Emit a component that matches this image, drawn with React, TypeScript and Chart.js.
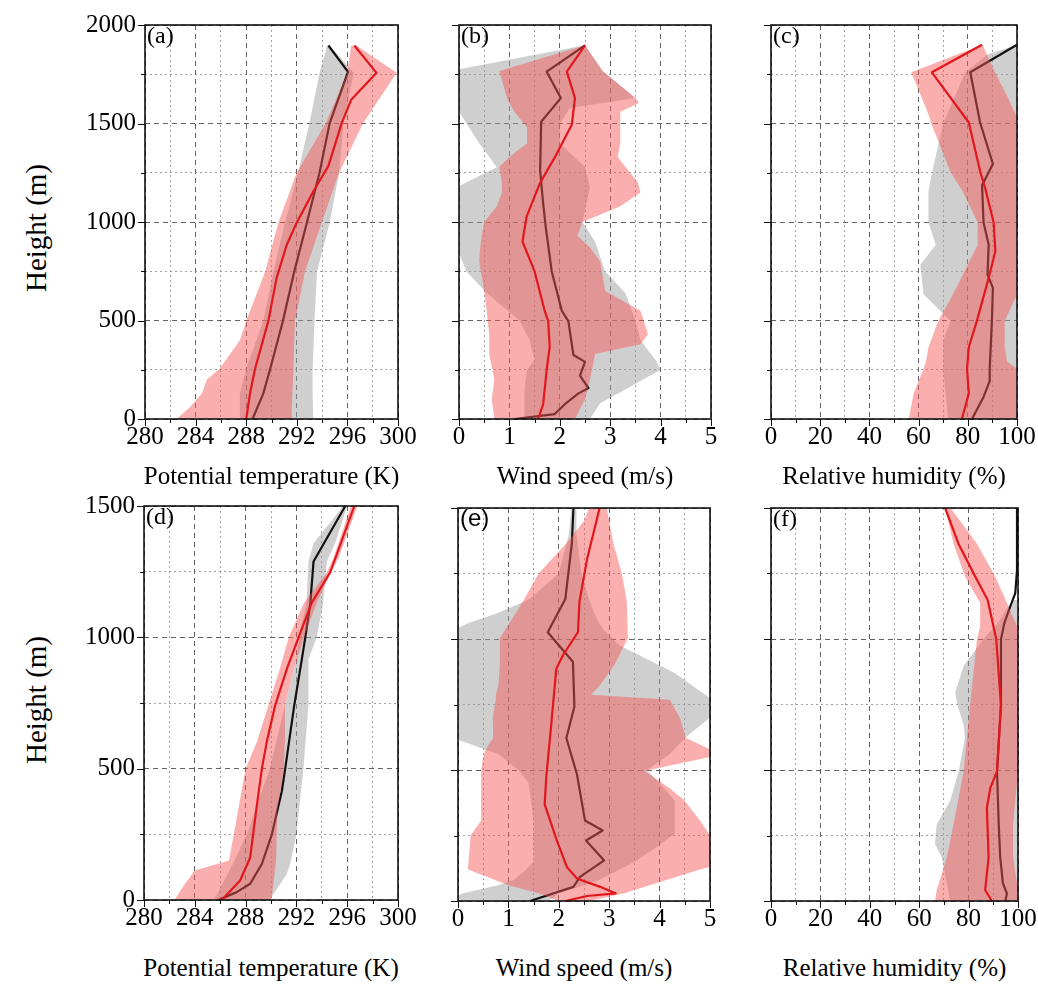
import React, { useEffect, useRef } from "react";
import { Chart, registerables } from "chart.js";
Chart.register(...registerables);

// ---------------- tick lists ----------------
const tempTicks = [280, 282, 284, 286, 288, 290, 292, 294, 296, 298, 300];
const tempLabels = [280, 284, 288, 292, 296, 300];
const windTicks = [0, 0.5, 1, 1.5, 2, 2.5, 3, 3.5, 4, 4.5, 5];
const windLabels = [0, 1, 2, 3, 4, 5];
const rhTicks = [0, 10, 20, 30, 40, 50, 60, 70, 80, 90, 100];
const rhLabels = [0, 20, 40, 60, 80, 100];
const hTicksTop = [0, 250, 500, 750, 1000, 1250, 1500, 1750, 2000];
const hLabelsTop = [0, 500, 1000, 1500, 2000];
const hTicksBot = [0, 250, 500, 750, 1000, 1250, 1500];
const hLabelsBot = [0, 500, 1000, 1500];

// ---------------- panel (a) ----------------
const aBlackH = [0, 129, 255, 497, 749, 997, 1251, 1502, 1762, 1896];
const aBlackT = [288.5, 289.35, 289.9, 290.9, 291.8, 292.8, 293.8, 294.6, 296.05, 294.5];
const aRedH = [0, 129, 255, 497, 715, 883, 998, 1155, 1285, 1502, 1620, 1757, 1896];
const aRedT = [288.0, 288.3, 288.7, 289.75, 290.4, 291.2, 292.0, 293.3, 294.5, 295.55, 296.3, 298.3, 296.55];
const aGrayH = [0, 129, 255, 497, 749, 997, 1251, 1502, 1757, 1896];
const aGrayLo = [287.5, 287.5, 288.0, 289.35, 290.15, 291.07, 292.1, 293.0, 293.8, 294.4];
const aGrayHi = [293.3, 293.25, 293.25, 293.4, 293.6, 294.6, 295.35, 295.7, 296.5, 294.6];
const aRedBandH = [0, 60, 129, 200, 255, 400, 497, 749, 997, 1251, 1502, 1757, 1896];
const aRedLo = [282.5, 283.55, 284.5, 284.9, 285.9, 287.5, 288.0, 289.5, 290.55, 292.0, 294.3, 296.0, 296.3];
const aRedHi = [291.6, 291.6, 291.65, 291.7, 291.73, 291.8, 291.86, 292.65, 293.97, 295.35, 297.25, 299.9, 296.7];

// ---------------- panel (b) ----------------
const bBlackH = [0, 25, 75, 130, 157, 193, 220, 290, 325, 497, 549, 749, 976, 1093, 1261, 1509, 1629, 1763, 1897];
const bBlackW = [1.1, 1.9, 2.1, 2.37, 2.57, 2.47, 2.4, 2.5, 2.27, 2.17, 2.04, 1.84, 1.72, 1.67, 1.61, 1.63, 2.02, 1.74, 2.5];
const bRedH = [0, 75, 250, 367, 497, 549, 749, 901, 1026, 1194, 1328, 1495, 1629, 1763, 1897];
const bRedW = [1.57, 1.67, 1.74, 1.8, 1.77, 1.7, 1.5, 1.26, 1.34, 1.6, 1.9, 2.24, 2.3, 2.14, 2.5];
const bGrayH = [0, 80, 150, 250, 300, 400, 500, 640, 749, 900, 1000, 1177, 1278, 1400, 1500, 1579, 1630, 1766, 1897];
const bGrayLo = [1.3, 1.3, 1.3, 1.35, 1.5, 1.4, 1.2, 0.55, 0.15, -0.1, -0.1, -0.05, 0.75, 0.4, 0.15, -0.05, -0.2, -0.2, 2.5];
const bGrayHi = [2.6, 2.8, 3.3, 4.0, 3.9, 3.6, 3.5, 3.3, 2.9, 2.7, 2.45, 2.6, 2.5, 2.0, 2.0, 2.2, 3.5, 2.85, 2.5];
const bRedBandH = [0, 100, 200, 330, 380, 430, 550, 650, 800, 870, 930, 1000, 1080, 1150, 1200, 1280, 1330, 1400, 1480, 1560, 1604, 1630, 1766, 1897];
const bRedLo = [0.7, 0.65, 0.7, 0.6, 0.6, 0.6, 0.55, 0.5, 0.4, 0.42, 0.45, 0.5, 0.75, 0.85, 0.85, 0.8, 1.0, 1.35, 1.35, 1.1, 1.0, 0.95, 0.8, 2.5];
const bRedHi = [2.3, 2.5, 2.6, 2.7, 3.6, 3.75, 3.6, 2.9, 2.8, 2.6, 2.35, 2.45, 3.2, 3.6, 3.55, 3.3, 3.15, 3.2, 3.2, 3.2, 3.57, 3.5, 2.85, 2.5];

// ---------------- panel (c) ----------------
const cBlackH = [0, 112, 196, 255, 498, 666, 733, 884, 998, 1186, 1295, 1505, 1760, 1900];
const cBlackR = [81.7, 86.4, 89.0, 88.9, 89.8, 90.2, 88.0, 88.5, 86.4, 85.8, 90.2, 85.0, 81.0, 100];
const cRedH = [0, 129, 255, 364, 498, 717, 851, 998, 1170, 1253, 1505, 1760, 1900];
const cRedR = [77.6, 80.4, 79.7, 80.4, 83.7, 88.5, 91.2, 90.5, 87.1, 85.1, 80.4, 65.4, 85.8];
const cGrayH = [0, 250, 400, 498, 633, 783, 884, 998, 1153, 1253, 1500, 1760, 1850, 1900];
const cGrayLo = [72, 70, 70, 73, 62, 60.7, 67, 64, 64, 65.5, 70, 79, 88, 100];
const cGrayHi = [100, 100, 100, 100, 100, 100, 100, 100, 100, 100, 100, 100, 100, 100];
const cRedBandH = [0, 129, 255, 290, 364, 498, 633, 783, 884, 998, 1153, 1253, 1505, 1530, 1640, 1760, 1900];
const cRedLo = [56, 58, 62, 63, 64, 68, 74, 80, 84, 84, 78, 73, 65, 64.5, 61, 57, 86];
const cRedHi = [100, 100, 100, 96, 95, 95, 100, 100, 100, 100, 100, 100, 100, 100, 96, 91, 86];

// ---------------- panel (d) ----------------
const dBlackH = [0, 30, 62, 137, 250, 414, 500, 741, 917, 1000, 1131, 1289, 1500];
const dBlackT = [285.86, 287.3, 288.36, 289.28, 290.07, 290.85, 291.12, 291.83, 292.43, 292.7, 293.1, 293.35, 295.85];
const dRedH = [0, 74, 162, 339, 500, 603, 741, 880, 1000, 1131, 1248, 1500];
const dRedT = [286.12, 287.57, 288.36, 288.83, 289.28, 289.67, 290.33, 291.25, 292.17, 293.2, 294.67, 296.56];
const dGrayH = [0, 100, 137, 250, 500, 741, 917, 1000, 1131, 1289, 1358, 1500];
const dGrayLo = [285.5, 286.6, 287.0, 288.1, 289.9, 291.1, 292.0, 292.2, 292.8, 292.95, 293.35, 295.7];
const dGrayHi = [289.9, 291.25, 291.5, 292.0, 292.55, 292.95, 292.95, 293.6, 294.1, 294.4, 295.05, 296.0];
const dRedBandH = [0, 60, 112, 150, 339, 500, 603, 741, 880, 1000, 1131, 1248, 1300, 1500];
const dRedLo = [282.4, 283.2, 284.0, 286.7, 287.4, 288.0, 288.9, 289.8, 290.7, 291.4, 292.6, 294.4, 294.9, 296.3];
const dRedHi = [290.0, 290.2, 290.3, 290.4, 290.5, 291.0, 291.1, 291.1, 291.8, 292.6, 293.6, 294.7, 295.3, 296.8];

// ---------------- panel (e) ----------------
const eBlackH = [0, 54, 92, 155, 231, 269, 307, 484, 622, 742, 913, 1026, 1153, 1367, 1500];
const eBlackW = [1.43, 2.29, 2.42, 2.9, 2.54, 2.87, 2.52, 2.36, 2.15, 2.31, 2.28, 1.78, 2.13, 2.26, 2.29];
const eRedH = [0, 19, 29, 54, 86, 130, 231, 369, 470, 673, 886, 937, 1026, 1143, 1304, 1500];
const eRedW = [2.13, 2.56, 3.13, 2.82, 2.36, 2.16, 1.96, 1.72, 1.75, 1.85, 1.95, 2.08, 2.38, 2.41, 2.56, 2.81];
const eGrayH = [0, 30, 60, 80, 110, 150, 200, 257, 300, 383, 450, 500, 560, 622, 700, 774, 870, 976, 1033, 1060, 1100, 1150, 1250, 1400, 1500];
const eGrayLo = [-0.2, 0.1, 0.8, 1.1, 1.3, 1.5, 1.5, 1.5, 1.5, 1.45, 1.4, 1.2, 0.8, -0.1, -0.1, -0.1, -0.1, -0.1, -0.1, 0.2, 0.8, 1.4, 2.0, 2.2, 2.25];
const eGrayHi = [1.8, 2.0, 2.5, 2.8, 3.1, 3.5, 3.9, 4.3, 4.3, 4.3, 4.0, 3.75, 4.2, 4.5, 5.0, 5.0, 4.3, 3.2, 2.9, 2.8, 2.7, 2.6, 2.45, 2.35, 2.35];
const eRedBandH = [0, 30, 60, 120, 130, 250, 307, 383, 430, 496, 550, 579, 622, 700, 768, 787, 820, 900, 1003, 1143, 1250, 1367, 1450, 1500];
const eRedLo = [2.0, 1.6, 1.0, 0.2, 0.2, 0.25, 0.46, 0.46, 0.46, 0.46, 0.5, 0.55, 0.7, 0.69, 0.75, 0.75, 0.8, 0.83, 0.83, 1.29, 1.6, 2.16, 2.5, 2.6];
const eRedHi = [2.6, 3.3, 3.8, 4.8, 5.0, 5.0, 4.8, 4.5, 4.2, 3.7, 5.0, 5.0, 4.52, 4.4, 4.2, 2.64, 2.8, 3.1, 3.37, 3.35, 3.25, 3.08, 3.0, 2.95];

// ---------------- panel (f) ----------------
const fBlackH = [0, 29, 67, 167, 293, 495, 747, 999, 1062, 1125, 1175, 1263, 1500];
const fBlackR = [94.9, 95.5, 93.9, 92.8, 92.2, 91.5, 93.1, 93.1, 94.5, 96.9, 98.9, 99.6, 99.6];
const fRedH = [0, 42, 167, 356, 432, 495, 747, 999, 1150, 1238, 1364, 1500];
const fRedR = [89.4, 86.7, 88.1, 87.4, 88.8, 91.5, 93.1, 91.2, 87.7, 82.7, 75.9, 70.5];
const fGrayH = [0, 67, 167, 218, 293, 382, 495, 621, 671, 747, 797, 898, 948, 999, 1062, 1125, 1150];
const fGrayLo = [72.5, 71.2, 69.1, 66.4, 67.1, 72.5, 76, 78.5, 78, 75.5, 74.6, 78, 82, 86, 92, 96, 98.5];
const fGrayHi = [100, 100, 100, 100, 100, 100, 100, 100, 100, 100, 100, 100, 100, 100, 100, 100, 100];
const fRedBandH = [0, 42, 167, 293, 495, 747, 999, 1049, 1137, 1238, 1364, 1500];
const fRedLo = [66.4, 67.1, 71.2, 73.9, 78, 80.6, 83.4, 84.7, 84.7, 78.6, 73.9, 70.5];
const fRedHi = [100, 100, 98, 98, 100, 100, 100, 99.6, 95.5, 90.8, 83.4, 72.7];

// ---------------- styles ----------------
const SERIF = "'Liberation Serif', 'Times New Roman', Times, serif";
const SANS = "'Liberation Sans', Arial, sans-serif";
const RED_LINE = "#e3161c";
const BLACK_LINE = "#141010";
const RED_FILL = "rgba(245,85,85,0.48)";
const GRAY_FILL = "rgba(155,155,155,0.48)";
const GRID_MAJOR = "rgba(70,70,70,0.85)";
const GRID_MINOR = "rgba(130,130,130,0.75)";
const TICK_FONT = 25;
const PAD_T = 20;
const PAD_R = 22;
const AXIS_H = 50;

type Spec = {
  key: string;
  letter: string;
  letterFont: string;
  left: number;
  top: number;
  w: number;
  h: number;
  axisW: number;
  xMin: number;
  xMax: number;
  xTicks: number[];
  xLabels: number[];
  yMax: number;
  yTicks: number[];
  yLabels: number[];
  showY: boolean;
  blackH: number[];
  blackV: number[];
  redH: number[];
  redV: number[];
  grayH: number[];
  grayLo: number[];
  grayHi: number[];
  rbH: number[];
  rbLo: number[];
  rbHi: number[];
};

const pts = (v: number[], h: number[]) => v.map((x, i) => ({ x, y: h[i] }));

const specs: Spec[] = [
  { key: "a", letter: "(a)", letterFont: SERIF, left: 145, top: 21, w: 253, h: 398, axisW: 85,
    xMin: 280, xMax: 300, xTicks: tempTicks, xLabels: tempLabels, yMax: 2000, yTicks: hTicksTop, yLabels: hLabelsTop, showY: true,
    blackH: aBlackH, blackV: aBlackT, redH: aRedH, redV: aRedT, grayH: aGrayH, grayLo: aGrayLo, grayHi: aGrayHi, rbH: aRedBandH, rbLo: aRedLo, rbHi: aRedHi },
  { key: "b", letter: "(b)", letterFont: SERIF, left: 459, top: 21, w: 252, h: 398, axisW: 25,
    xMin: 0, xMax: 5, xTicks: windTicks, xLabels: windLabels, yMax: 2000, yTicks: hTicksTop, yLabels: hLabelsTop, showY: false,
    blackH: bBlackH, blackV: bBlackW, redH: bRedH, redV: bRedW, grayH: bGrayH, grayLo: bGrayLo, grayHi: bGrayHi, rbH: bRedBandH, rbLo: bRedLo, rbHi: bRedHi },
  { key: "c", letter: "(c)", letterFont: SERIF, left: 771, top: 21, w: 246, h: 398, axisW: 25,
    xMin: 0, xMax: 100, xTicks: rhTicks, xLabels: rhLabels, yMax: 2000, yTicks: hTicksTop, yLabels: hLabelsTop, showY: false,
    blackH: cBlackH, blackV: cBlackR, redH: cRedH, redV: cRedR, grayH: cGrayH, grayLo: cGrayLo, grayHi: cGrayHi, rbH: cRedBandH, rbLo: cRedLo, rbHi: cRedHi },
  { key: "d", letter: "(d)", letterFont: SERIF, left: 144, top: 502, w: 254, h: 398, axisW: 85,
    xMin: 280, xMax: 300, xTicks: tempTicks, xLabels: tempLabels, yMax: 1500, yTicks: hTicksBot, yLabels: hLabelsBot, showY: true,
    blackH: dBlackH, blackV: dBlackT, redH: dRedH, redV: dRedT, grayH: dGrayH, grayLo: dGrayLo, grayHi: dGrayHi, rbH: dRedBandH, rbLo: dRedLo, rbHi: dRedHi },
  { key: "e", letter: "(e)", letterFont: SANS, left: 458, top: 504, w: 252, h: 397, axisW: 25,
    xMin: 0, xMax: 5, xTicks: windTicks, xLabels: windLabels, yMax: 1500, yTicks: hTicksBot, yLabels: hLabelsBot, showY: false,
    blackH: eBlackH, blackV: eBlackW, redH: eRedH, redV: eRedW, grayH: eGrayH, grayLo: eGrayLo, grayHi: eGrayHi, rbH: eRedBandH, rbLo: eRedLo, rbHi: eRedHi },
  { key: "f", letter: "(f)", letterFont: SERIF, left: 771, top: 504, w: 247, h: 397, axisW: 25,
    xMin: 0, xMax: 100, xTicks: rhTicks, xLabels: rhLabels, yMax: 1500, yTicks: hTicksBot, yLabels: hLabelsBot, showY: false,
    blackH: fBlackH, blackV: fBlackR, redH: fRedH, redV: fRedR, grayH: fGrayH, grayLo: fGrayLo, grayHi: fGrayHi, rbH: fRedBandH, rbLo: fRedLo, rbHi: fRedHi },
];

const makeFrame = (xMaj: number[], yMaj: number[]) => ({
  id: "frame",
  afterDraw(chart: any) {
    const { ctx, chartArea: a } = chart;
    const xs = chart.scales.x;
    const ys = chart.scales.y;
    ctx.save();
    ctx.strokeStyle = "#111";
    ctx.lineWidth = 1;
    ctx.beginPath();
    for (const t of xs.ticks) {
      const p = Math.round(xs.getPixelForValue(t.value)) + 0.5;
      const len = xMaj.includes(t.value) ? 7 : 4;
      ctx.moveTo(p, a.bottom);
      ctx.lineTo(p, a.bottom + len);
    }
    for (const t of ys.ticks) {
      const p = Math.round(ys.getPixelForValue(t.value)) + 0.5;
      const len = yMaj.includes(t.value) ? 7 : 4;
      ctx.moveTo(a.left, p);
      ctx.lineTo(a.left - len, p);
    }
    ctx.stroke();
    ctx.lineWidth = 1.6;
    ctx.strokeRect(a.left, a.top, a.right - a.left, a.bottom - a.top);
    ctx.restore();
  },
});

function Panel({ s }: { s: Spec }) {
  const ref = useRef<HTMLCanvasElement>(null);
  const cw = s.axisW + s.w + PAD_R;
  const ch = PAD_T + s.h + AXIS_H;
  useEffect(() => {
    const canvas = ref.current;
    if (!canvas) return;
    const edge = { borderColor: "rgba(0,0,0,0)", borderWidth: 0, pointRadius: 0 };
    const isMaj = (arr: number[], v: number) => arr.includes(v);
    const chart = new Chart(canvas, {
      type: "line",
      data: {
        datasets: [
          { label: "red", data: pts(s.redV, s.redH), borderColor: RED_LINE, borderWidth: 2.2, pointRadius: 0, fill: false, clip: 4, borderJoinStyle: "round" },
          { label: "redLo", data: pts(s.rbLo, s.rbH), ...edge, fill: "+1", backgroundColor: RED_FILL },
          { label: "redHi", data: pts(s.rbHi, s.rbH), ...edge, fill: false },
          { label: "black", data: pts(s.blackV, s.blackH), borderColor: BLACK_LINE, borderWidth: 2.2, pointRadius: 0, fill: false, clip: 4, borderJoinStyle: "round" },
          { label: "grayLo", data: pts(s.grayLo, s.grayH), ...edge, fill: "+1", backgroundColor: GRAY_FILL },
          { label: "grayHi", data: pts(s.grayHi, s.grayH), ...edge, fill: false },
        ] as any,
      },
      options: {
        indexAxis: "y",
        animation: false,
        responsive: false,
        maintainAspectRatio: false,
        events: [],
        layout: { padding: { top: PAD_T, right: PAD_R, left: 0, bottom: 0 } },
        elements: { line: { tension: 0 }, point: { radius: 0 } },
        plugins: { legend: { display: false }, tooltip: { enabled: false } },
        scales: {
          x: {
            type: "linear",
            position: "bottom",
            min: s.xMin,
            max: s.xMax,
            afterBuildTicks: (sc: any) => {
              sc.ticks = s.xTicks.map((v) => ({ value: v }));
            },
            afterFit: (sc: any) => {
              sc.height = AXIS_H;
            },
            ticks: {
              autoSkip: false,
              maxRotation: 0,
              minRotation: 0,
              padding: 3,
              color: "#000",
              font: { family: SERIF, size: TICK_FONT },
              callback: (v: any) => (s.xLabels.includes(Number(v)) ? String(v) : ""),
            },
            grid: {
              drawTicks: false,
              lineWidth: 1,
              color: (c: any) => (isMaj(s.xLabels, c.tick?.value) ? GRID_MAJOR : GRID_MINOR),
            },
            border: {
              display: false,
              dash: (c: any) => (isMaj(s.xLabels, c.tick?.value) ? [5, 4] : [2, 3]),
            },
          },
          y: {
            type: "linear",
            position: "left",
            min: 0,
            max: s.yMax,
            afterBuildTicks: (sc: any) => {
              sc.ticks = s.yTicks.map((v) => ({ value: v }));
            },
            afterFit: (sc: any) => {
              sc.width = s.axisW;
            },
            ticks: {
              autoSkip: false,
              padding: 9,
              color: "#000",
              font: { family: SERIF, size: TICK_FONT },
              callback: (v: any) => (s.showY && s.yLabels.includes(Number(v)) ? String(v) : ""),
            },
            grid: {
              drawTicks: false,
              lineWidth: 1,
              color: (c: any) => (isMaj(s.yLabels, c.tick?.value) ? GRID_MAJOR : GRID_MINOR),
            },
            border: {
              display: false,
              dash: (c: any) => (isMaj(s.yLabels, c.tick?.value) ? [5, 4] : [2, 3]),
            },
          },
        },
      } as any,
      plugins: [makeFrame(s.xLabels, s.yLabels)],
    });
    return () => chart.destroy();
  }, [s]);
  return (
    <canvas
      ref={ref}
      width={cw}
      height={ch}
      style={{ position: "absolute", left: s.left - s.axisW, top: s.top - PAD_T, width: cw, height: ch }}
    />
  );
}

const xTitles = ["Potential temperature (K)", "Wind speed (m/s)", "Relative humidity (%)"];

export default function App() {
  return (
    <div
      style={{
        position: "absolute",
        left: 0,
        top: 0,
        width: 1038,
        height: 992,
        overflow: "hidden",
        background: "#fff",
        fontFamily: SERIF,
        color: "#000",
      }}
    >
      {specs.map((s) => (
        <Panel key={s.key} s={s} />
      ))}
      {specs.map((s) => (
        <div
          key={"l" + s.key}
          style={{ position: "absolute", left: s.left + 2, top: s.top + 1, fontSize: 24, lineHeight: "26px", fontFamily: s.letterFont }}
        >
          {s.letter}
        </div>
      ))}
      {specs.map((s, i) => (
        <div
          key={"t" + s.key}
          style={{
            position: "absolute",
            left: s.left + s.w / 2 - 200,
            width: 400,
            top: (i < 3 ? 476 : 968) - 15,
            height: 30,
            lineHeight: "30px",
            textAlign: "center",
            fontSize: 25,
            whiteSpace: "nowrap",
          }}
        >
          {xTitles[i % 3]}
        </div>
      ))}
      {[228, 700].map((cy) => (
        <div
          key={"h" + cy}
          style={{
            position: "absolute",
            left: 36 - 100,
            top: cy - 18,
            width: 200,
            height: 36,
            lineHeight: "36px",
            textAlign: "center",
            fontSize: 29,
            transform: "rotate(-90deg)",
            whiteSpace: "nowrap",
          }}
        >
          Height (m)
        </div>
      ))}
    </div>
  );
}
